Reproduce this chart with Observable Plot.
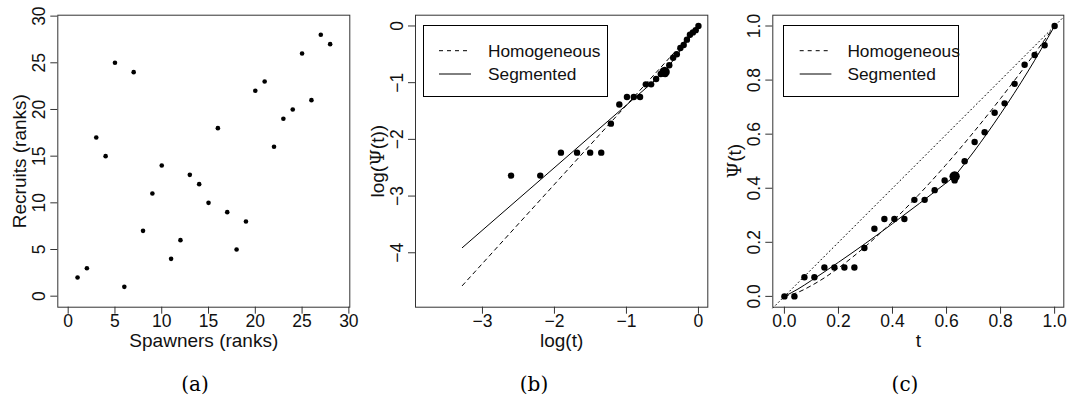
<!DOCTYPE html>
<html><head><meta charset="utf-8">
<script src="https://cdn.jsdelivr.net/npm/d3@7"></script>
<script src="https://cdn.jsdelivr.net/npm/@observablehq/plot@0.6"></script>
<style>
body{margin:0;background:#fff;}
#root{position:relative;width:1067px;height:417px;overflow:hidden;font-family:"Liberation Sans",Arial,sans-serif;}
.panel{position:absolute;top:0;}
.cap{position:absolute;top:372px;font-family:"DejaVu Serif","Liberation Serif",serif;font-size:20px;transform:translateX(-50%);}
.legend{position:absolute;border:1px solid #000;box-sizing:border-box;background:#fff;}
.legend svg{position:absolute;left:0;top:0;}
</style></head><body><div id="root"></div>
<script>
// ---------- data ----------
// (a) ranks
const spawners = [1,2,3,4,5,6,7,8,9,10,11,12,13,14,15,16,17,18,19,20,21,22,23,24,25,26,27,28];
const recruits = [2,3,17,15,25,1,24,7,11,14,4,6,13,12,10,18,9,5,8,22,23,16,19,20,26,21,28,27];
const ticksA = [0,5,10,15,20,25,30];

// (c) empirical Psi(t)
const tC   = [0,0.037,0.074,0.111,0.148,0.185,0.222,0.259,0.296,0.333,0.370,0.407,0.444,0.481,0.519,0.556,0.593,0.630,0.667,0.704,0.741,0.778,0.815,0.852,0.889,0.926,0.963,1.0];
const psiC = [0,0,0.071,0.071,0.107,0.107,0.107,0.107,0.179,0.250,0.286,0.286,0.286,0.357,0.357,0.393,0.429,0.429,0.500,0.571,0.607,0.679,0.714,0.786,0.857,0.893,0.929,1.0];
const homT   = [0,0.05,0.1,0.15,0.2,0.3,0.4,0.5,0.6,0.7,0.8,0.9,1];
const homPsi = [0,0.015,0.040,0.070,0.105,0.185,0.277,0.379,0.489,0.607,0.732,0.863,1];
const seg1T   = [0,0.05,0.1,0.2,0.3,0.4,0.5,0.63];
const seg1Psi = [0,0.027,0.059,0.126,0.196,0.269,0.344,0.444];
const seg2T   = [0.63,0.7,0.8,0.9,1];
const seg2Psi = [0.444,0.534,0.675,0.830,1];
const diagC = [-0.043,1.034];
const changeC = {t:0.63, psi:0.444};
const ticksC = [0,0.2,0.4,0.6,0.8,1.0];

// (b) log scale
const logT   = [-2.603,-2.197,-1.910,-1.686,-1.504,-1.350,-1.216,-1.099,-0.993,-0.898,-0.811,-0.731,-0.657,-0.588,-0.523,-0.463,-0.405,-0.351,-0.300,-0.251,-0.205,-0.160,-0.118,-0.077,-0.038,0];
const logPsi = [-2.639,-2.639,-2.234,-2.234,-2.234,-2.234,-1.723,-1.386,-1.253,-1.253,-1.253,-1.030,-1.030,-0.934,-0.847,-0.847,-0.693,-0.560,-0.499,-0.388,-0.336,-0.241,-0.154,-0.113,-0.074,0];
const homLogT = [-3.28,0], homLogPsi = [-4.58,0];
const segLogT = [-3.28,-0.47,0], segLogPsi = [-3.91,-0.81,0];
const changeB = {t:-0.47, psi:-0.81};
const ticksBx = [-3,-2,-1,0];
const ticksBy = [-4,-3,-2,-1,0];

const legendLabels = ["Homogeneous","Segmented"];

// ---------- layout helpers ----------
const FS = 17.5, FT = 19;
const root = document.getElementById("root");
const minus = v => String(v).replace("-", "\u2212");

function panel({left, width, height, mL, mR, mT, mB, xDom, yDom, xTicks, yTicks, xFmt, yFmt, xLabel, yLabel, marks}) {
  const svg = Plot.plot({
    width, height, marginLeft: mL, marginRight: mR, marginTop: mT, marginBottom: mB,
    x: {domain: xDom, axis: null},
    y: {domain: yDom, axis: null},
    style: {fontFamily: '"Liberation Sans", Arial, sans-serif', background: "transparent", overflow: "visible"},
    marks: [
      Plot.axisX(xTicks, {tickSize: 7, tickFormat: () => "", stroke: "#333", label: null}),
      Plot.axisY(yTicks, {tickSize: 7, tickFormat: () => "", stroke: "#333", label: null}),
      Plot.text(xTicks, {x: d => d, frameAnchor: "bottom", dy: 14, text: xFmt, fontSize: FS, lineAnchor: "middle", fill: "#111"}),
      Plot.text(yTicks, {y: d => d, frameAnchor: "left", dx: -18.5, text: yFmt, fontSize: FS, rotate: -90, lineAnchor: "middle", textAnchor: "middle", fill: "#111"}),
      Plot.text([xLabel], {frameAnchor: "bottom", dy: 33.5, text: d => d, fontSize: FT, lineAnchor: "middle", fill: "#111"}),
      Plot.text([yLabel], {frameAnchor: "left", dx: -38, text: d => d, fontSize: FT, rotate: -90, lineAnchor: "middle", textAnchor: "middle", fill: "#111"}),
      ...marks,
      Plot.frame({stroke: "#333", strokeWidth: 1})
    ]
  });
  // render the Greek Psi in a serif face, like R's plotmath symbol font
  svg.querySelectorAll("text").forEach(t => {
    if (t.textContent.includes("\u03A8") && !t.querySelector("tspan")) {
      const parts = t.textContent.split("\u03A8");
      t.textContent = "";
      parts.forEach((p, i) => {
        if (i > 0) {
          const s = document.createElementNS("http://www.w3.org/2000/svg", "tspan");
          s.setAttribute("font-family", '"DejaVu Serif", "Liberation Serif", serif');
          s.textContent = "\u03A8";
          t.appendChild(s);
        }
        if (p) t.appendChild(document.createTextNode(p));
      });
    }
  });
  const div = document.createElement("div");
  div.className = "panel";
  div.style.left = left + "px";
  div.appendChild(svg);
  root.appendChild(div);
}

function legend({left, top, width, height, lineX0, lineX1, textX}) {
  const d = document.createElement("div");
  d.className = "legend";
  Object.assign(d.style, {left: left + "px", top: top + "px", width: width + "px", height: height + "px"});
  const rows = [24.7, 48];
  const dashes = ["4,4", null];
  let s = `<svg width="${width}" height="${height}" xmlns="http://www.w3.org/2000/svg">`;
  legendLabels.forEach((lab, i) => {
    s += `<line x1="${lineX0}" x2="${lineX1}" y1="${rows[i]}" y2="${rows[i]}" stroke="#000" stroke-width="1" ${dashes[i] ? `stroke-dasharray="${dashes[i]}"` : ""}/>`;
    s += `<text x="${textX}" y="${rows[i]}" dy="0.36em" font-size="17.3" font-family="Liberation Sans, Arial, sans-serif" fill="#111">${lab}</text>`;
  });
  s += `</svg>`;
  d.innerHTML = s;
  root.appendChild(d);
}

function cap(x, t) {
  const c = document.createElement("div");
  c.className = "cap"; c.style.left = x + "px"; c.textContent = t;
  root.appendChild(c);
}

// ---------- panel (a) ----------
panel({
  left: 0, width: 360, height: 365, mL: 57.3, mR: 10.7, mT: 14.7, mB: 58.3,
  xDom: [-1.11, 30.1], yDom: [-1.18, 30.1], xTicks: ticksA, yTicks: ticksA,
  xFmt: d => String(d), yFmt: d => String(d),
  xLabel: "Spawners (ranks)", yLabel: "Recruits (ranks)",
  marks: [
    Plot.dot(spawners, {x: d => d, y: (d, i) => recruits[i], r: 2.3, fill: "#000", stroke: null})
  ]
});

// ---------- panel (b) ----------
panel({
  left: 360, width: 355, height: 365, mL: 55, mR: 7.7, mT: 14.7, mB: 58.3,
  xDom: [-3.93, 0.13], yDom: [-4.96, 0.19], xTicks: ticksBx, yTicks: ticksBy,
  xFmt: minus, yFmt: minus,
  xLabel: "log(t)", yLabel: "log(\u03A8(t))",
  marks: [
    Plot.line(homLogT, {x: d => d, y: (d, i) => homLogPsi[i], stroke: "#000", strokeWidth: 1, strokeDasharray: "4,4"}),
    Plot.line(segLogT, {x: d => d, y: (d, i) => segLogPsi[i], stroke: "#000", strokeWidth: 1}),
    Plot.dot(logT, {x: d => d, y: (d, i) => logPsi[i], r: 3.2, fill: "#000", stroke: null}),
    Plot.dot([changeB], {x: "t", y: "psi", r: 5.2, fill: "#000", stroke: null})
  ]
});

// ---------- panel (c) ----------
panel({
  left: 715, width: 352, height: 365, mL: 57.3, mR: 3.7, mT: 14.7, mB: 58.3,
  xDom: [-0.043, 1.034], yDom: [-0.04, 1.04], xTicks: ticksC, yTicks: ticksC,
  xFmt: d => d.toFixed(1), yFmt: d => d.toFixed(1),
  xLabel: "t", yLabel: "\u03A8(t)",
  marks: [
    Plot.line(diagC, {x: d => d, y: d => d, stroke: "#000", strokeWidth: 1, strokeDasharray: "1,3"}),
    Plot.line(homT, {x: d => d, y: (d, i) => homPsi[i], stroke: "#000", strokeWidth: 1, strokeDasharray: "4,4", curve: "monotone-x"}),
    Plot.line(seg1T, {x: d => d, y: (d, i) => seg1Psi[i], stroke: "#000", strokeWidth: 1, curve: "monotone-x"}),
    Plot.line(seg2T, {x: d => d, y: (d, i) => seg2Psi[i], stroke: "#000", strokeWidth: 1, curve: "monotone-x"}),
    Plot.dot(tC, {x: d => d, y: (d, i) => psiC[i], r: 3.2, fill: "#000", stroke: null}),
    Plot.dot([changeC], {x: "t", y: "psi", r: 5.2, fill: "#000", stroke: null})
  ]
});

legend({left: 423.3, top: 25.3, width: 185, height: 71.4, lineX0: 15, lineX1: 47, textX: 64});
legend({left: 783.3, top: 25.3, width: 176, height: 71.4, lineX0: 15.7, lineX1: 47.4, textX: 63.4});

cap(195, "(a)");
cap(534, "(b)");
cap(905, "(c)");
</script>
</body></html>
